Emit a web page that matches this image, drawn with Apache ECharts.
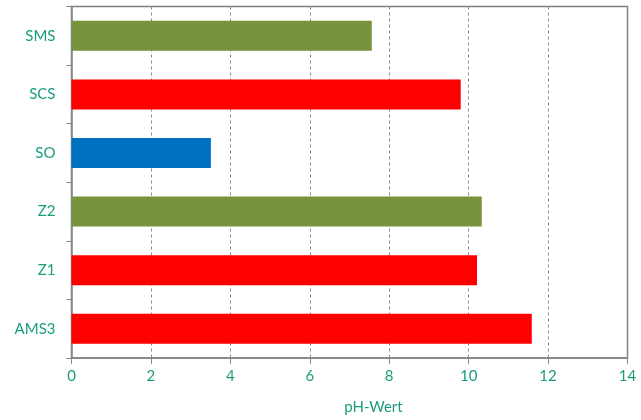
<!DOCTYPE html>
<html><head><meta charset="utf-8">
<script src="https://cdn.jsdelivr.net/npm/echarts@6/dist/echarts.min.js"></script>
<style>html,body{margin:0;padding:0;background:#fff}#c{width:641px;height:420px}</style>
</head><body><div id="c"></div>
<script>
const categories = ['SMS', 'SCS', 'SO', 'Z2', 'Z1', 'AMS3'];
const values = [7.56, 9.80, 3.51, 10.33, 10.21, 11.59];
const barColors = ['#77933C', '#FF0000', '#0070C0', '#77933C', '#FF0000', '#FF0000'];
const xTicks = [0, 2, 4, 6, 8, 10, 12, 14];
const axisTitle = 'pH-Wert';

const textColor = '#1A9C7E';
const font = 'Lato, "Open Sans", sans-serif';
const chart = echarts.init(document.getElementById('c'));
chart.setOption({
  animation: false,
  grid: { left: 71.5, right: 13.5, top: 6.5, bottom: 60, show: true, borderColor: '#7f7f7f', borderWidth: 1.5 },
  xAxis: {
    type: 'value', min: xTicks[0], max: xTicks[xTicks.length - 1], interval: 2,
    name: axisTitle, nameLocation: 'middle', nameGap: 42,
    nameTextStyle: { color: textColor, fontSize: 15, fontFamily: font, padding: [0, 0, 0, 48] },
    axisLine: { show: true, lineStyle: { color: '#868686', width: 1.5 } },
    axisTick: { show: true, length: 6, lineStyle: { color: '#868686' } },
    axisLabel: { color: textColor, fontSize: 15, fontFamily: font, margin: 11 },
    splitLine: { show: true, lineStyle: { color: '#8c8c8c', type: [3, 3], width: 1 } }
  },
  yAxis: {
    type: 'category', data: categories, inverse: true,
    axisLine: { show: true, lineStyle: { color: '#868686', width: 1.5 } },
    axisTick: { show: true, length: 5, alignWithLabel: false, lineStyle: { color: '#868686' } },
    axisLabel: { color: textColor, fontSize: 15, fontFamily: font, margin: 16 },
    splitLine: { show: false }
  },
  series: [{
    type: 'bar', barWidth: 30,
    data: values.map((v, i) => ({ value: v, itemStyle: { color: barColors[i] } }))
  }]
});
</script></body></html>
